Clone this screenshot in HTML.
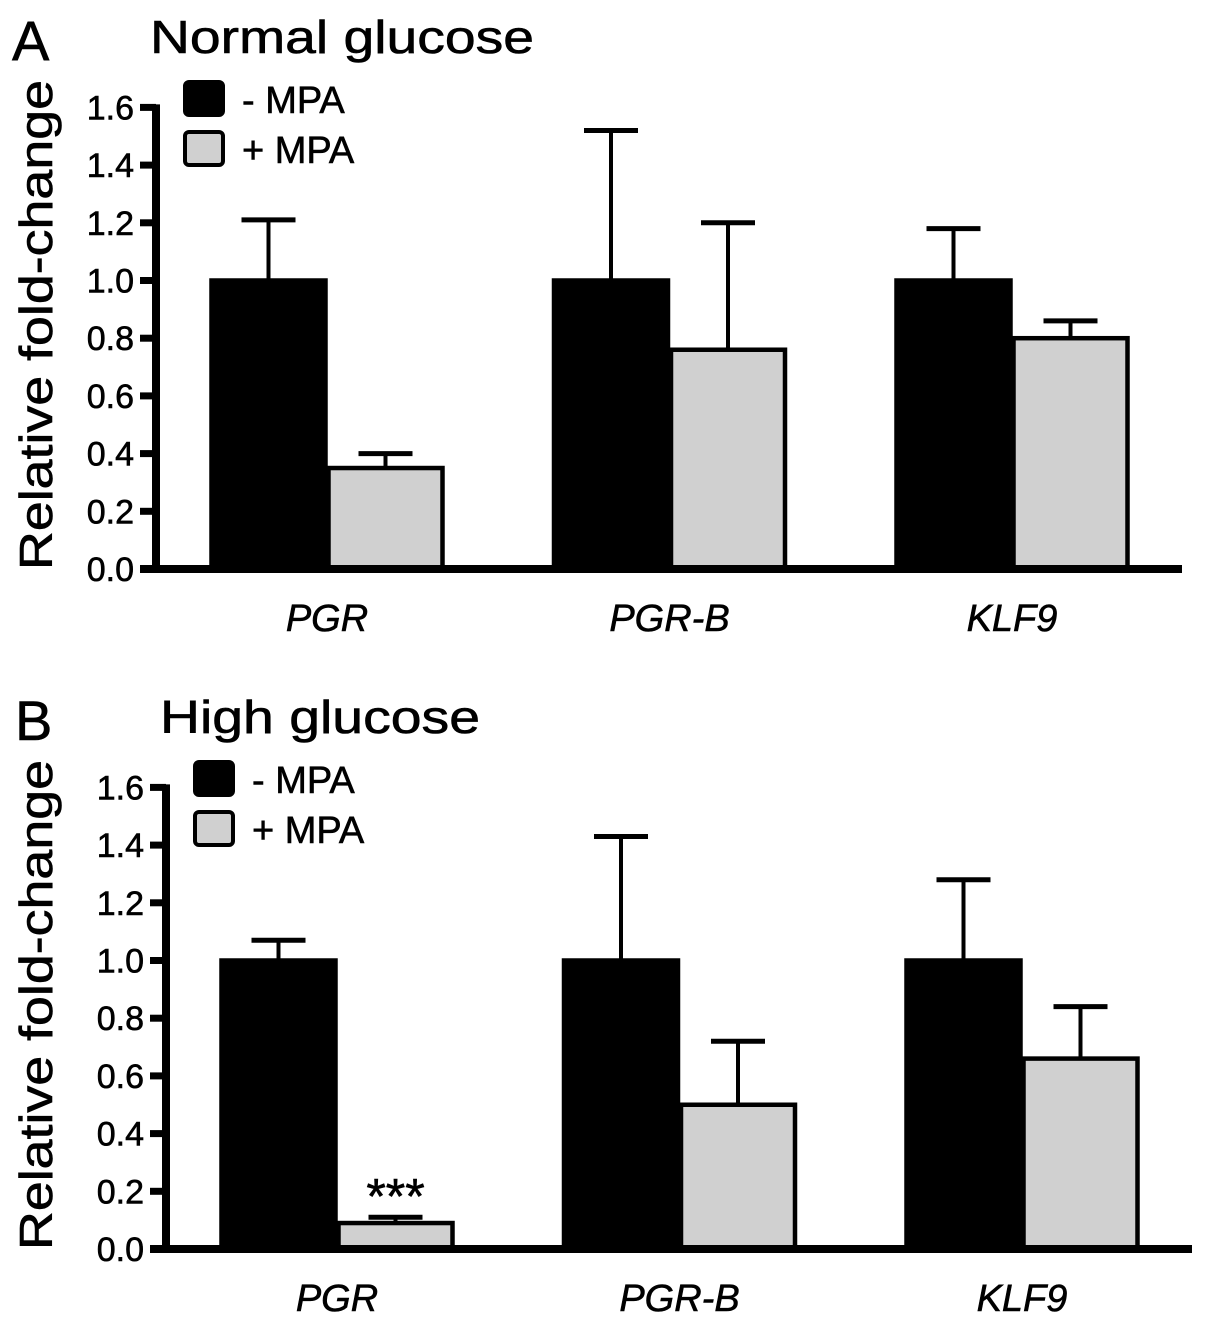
<!DOCTYPE html>
<html><head><meta charset="utf-8"><style>
html,body{margin:0;padding:0;background:#fff;}
svg{display:block;font-family:"Liberation Sans",Arial,sans-serif;}
text{stroke:#000;stroke-width:0.6px;}
</style></head><body>
<svg id="chart" width="1205" height="1332" viewBox="0 0 1205 1332" xmlns="http://www.w3.org/2000/svg"></svg>
<script>
const categories = ["PGR", "PGR-B", "KLF9"];
const tickLabels = ["0.0","0.2","0.4","0.6","0.8","1.0","1.2","1.4","1.6"];
const tickValues = [0,0.2,0.4,0.6,0.8,1.0,1.2,1.4,1.6];
const normalMinus = [1.0, 1.0, 1.0];
const normalMinusErr = [0.21, 0.52, 0.18];
const normalPlus = [0.35, 0.76, 0.80];
const normalPlusErr = [0.05, 0.44, 0.06];
const highMinus = [1.0, 1.0, 1.0];
const highMinusErr = [0.07, 0.43, 0.28];
const highPlus = [0.09, 0.50, 0.66];
const highPlusErr = [0.02, 0.22, 0.18];
const legendLabels = ["- MPA", "+ MPA"];

const NS = "http://www.w3.org/2000/svg";
const svg = document.getElementById("chart");
function mk(tag, attrs, parent, text){
  const e = document.createElementNS(NS, tag);
  for (const k in attrs) e.setAttribute(k, attrs[k]);
  if (text !== undefined) e.textContent = text;
  (parent || svg).appendChild(e);
  return e;
}

function panel(cfg){
  const g = mk("g", {});
  
  
  const dx = cfg.dx, dy = cfg.dy;
  const axisX = 156 + dx, zeroY = 569 + dy, unit = 288.5;
  const y = v => zeroY - v * unit;
  const groupStart = 210 + dx, groupStep = 342.5, barW = 117;
  const xb = (i, s) => groupStart + i * groupStep + s * barW;

  const L = mk("text", {x: 12 + dx*0.3, y: 60 + dy, "font-size": 56}, g, cfg.letter);
  
  
  const T = mk("text", {x: 150 + dx, y: 53 + dy, "font-size": 46, textLength: cfg.titleLen, lengthAdjust: "spacingAndGlyphs"}, g, cfg.title);
  
  

  const yt = mk("text", {x: 0, y: 0, "font-size": 46, "text-anchor": "middle", textLength: 490, lengthAdjust: "spacingAndGlyphs", transform: `translate(52,${325 + dy}) rotate(-90)`}, g, "Relative fold-change");
  
  

  tickValues.forEach((v, i) => {
    const t = mk("line", {x1: axisX - 16, x2: axisX, y1: y(v), y2: y(v), stroke: "#000", "stroke-width": 7}, g);
    
    
    const tl = mk("text", {x: axisX - 22, y: y(v) + 12, "font-size": 34, "text-anchor": "end"}, g, tickLabels[i]);
    
    
  });

  const series = [[cfg.minus, cfg.minusErr, "#000"], [cfg.plus, cfg.plusErr, "#d0d0d0"]];
  categories.forEach((c, i) => {
    series.forEach((s, si) => {
      const v = s[0][i], e = s[1][i];
      const x0 = xb(i, si), cx = x0 + barW / 2;
      const el = mk("line", {x1: cx, x2: cx, y1: y(v), y2: y(v + e), stroke: "#000", "stroke-width": 4}, g);
      
      
      const cap = mk("line", {x1: cx - 27, x2: cx + 27, y1: y(v + e), y2: y(v + e), stroke: "#000", "stroke-width": 5}, g);
      
      
      const r = mk("rect", {x: x0 + 1.5, y: y(v), width: barW - 3, height: zeroY - y(v), fill: s[2], stroke: "#000", "stroke-width": 4.5}, g);
      
      
    });
    const cl = mk("text", {x: xb(i, 1), y: 631 + dy, "font-size": 38, "font-style": "italic", "text-anchor": "middle"}, g, c);
    
    
  });

  const ya = mk("line", {x1: axisX, x2: axisX, y1: y(1.6) - 3, y2: zeroY + 4, stroke: "#000", "stroke-width": 8}, g);
  
  
  const xa = mk("line", {x1: axisX - 16, x2: 1182 + dx, y1: zeroY, y2: zeroY, stroke: "#000", "stroke-width": 8}, g);
  
  

  [["#000", 0], ["#d0d0d0", 1]].forEach(([f, k]) => {
    const ly = 82 + dy + k * 50;
    const b = mk("rect", {x: 185 + dx, y: ly, width: 38, height: 33, rx: 4, fill: f, stroke: "#000", "stroke-width": 4}, g);
    
    
    const lt = mk("text", {x: 242 + dx, y: ly + 31, "font-size": 38}, g, legendLabels[k]);
    
    
  });

  if (cfg.stars) {
    const st = mk("text", {x: xb(0, 1) + barW / 2, y: y(cfg.plus[0] + cfg.plusErr[0]) - 4, "font-size": 50, "text-anchor": "middle"}, g, "***");
    
    
  }
}

panel({name: "panel-a-normal-glucose", letter: "A", title: "Normal glucose", titleLen: 384, dx: 0, dy: 0,
  minus: normalMinus, minusErr: normalMinusErr, plus: normalPlus, plusErr: normalPlusErr});
panel({name: "panel-b-high-glucose", letter: "B", title: "High glucose", titleLen: 320, dx: 10, dy: 680,
  minus: highMinus, minusErr: highMinusErr, plus: highPlus, plusErr: highPlusErr, stars: true});
</script>
</body></html>
